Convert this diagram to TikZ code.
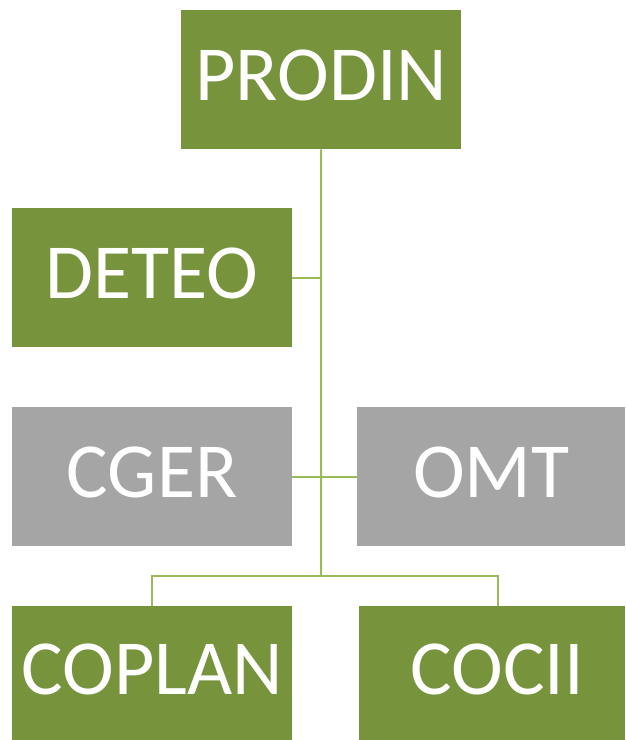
\documentclass[tikz,border=0pt]{standalone}
\usepackage{fontspec}
\setmainfont{Carlito}
\definecolor{olive}{HTML}{77933C}
\definecolor{lightolive}{HTML}{9BBB59}
\definecolor{boxgray}{HTML}{A5A5A5}
\begin{document}
\begin{tikzpicture}[x=1pt,y=-1pt]
		\tikzset{unit/.style = {fill=olive, text=white, font=\fontsize{78}{82}\selectfont, text height=50pt, text depth=8pt, inner sep=0pt, anchor=north west}}
		\tikzset{staff/.style = {unit, fill=boxgray}}
		\tikzset{edge/.style = {draw=lightolive, line width=2pt}}
		
		\useasboundingbox (0,0) rectangle (625,740);
		
		\node[unit, minimum width=280pt, minimum height=139pt]  (prodin) at (181,  10) {PRODIN};
		\node[unit, minimum width=280pt, minimum height=139pt]  (deteo)  at ( 12, 208) {DETEO};
		\node[staff, minimum width=280pt, minimum height=139pt] (cger)   at ( 12, 407) {CGER};
		\node[staff, minimum width=268pt, minimum height=139pt] (omt)    at (357, 407) {OMT};
		\node[unit, minimum width=280pt, minimum height=134pt]  (coplan) at ( 12, 606) {COPLAN};
		\node[unit, minimum width=266pt, minimum height=134pt]  (cocii)  at (359, 606) {\hspace*{10pt}COCII};
		
		\coordinate (hub)  at (321, 576);
		\coordinate (drop) at (498, 606);
		
		\draw[edge] (prodin.south) -- (hub);
		\draw[edge] (deteo.east) -- (deteo.east -| hub);
		\draw[edge] (cger.east) -- (omt.west);
		\draw[edge] (hub) -| (coplan.north);
		\draw[edge] (hub) -| (drop);
		\end{tikzpicture}
\end{document}
